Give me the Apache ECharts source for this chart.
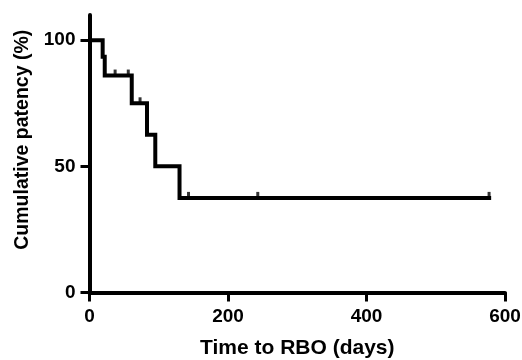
<!DOCTYPE html>
<html>
<head>
<meta charset="utf-8">
<script src="https://cdn.jsdelivr.net/npm/echarts@6/dist/echarts.min.js"></script>
<style>
  html, body { margin: 0; padding: 0; background: #fff; }
  #chart { width: 522px; height: 360px; }
</style>
</head>
<body>
<div id="chart"></div>
<script>
// Kaplan-Meier steps: day of event -> patency after it
const eventDays = [0, 19, 22, 61, 83, 95, 130, 580];
const patency = [100, 93.5, 86, 75, 62.5, 50, 37.5, 37.5];
// censored cases (tick marks)
const censorDays = [37, 56, 73, 143, 243, 577];
const censorValues = [86, 86, 75, 37.5, 37.5, 37.5];
const xTicks = [0, 200, 400, 600];
const yTicks = [0, 50, 100];

const font = "'Liberation Sans', Arial, sans-serif";
const black = '#000';

var myChart = echarts.init(document.getElementById('chart'));
myChart.setOption({
  animation: false,
  backgroundColor: '#fff',
  grid: { left: 89.5, right: 17, top: 15, bottom: 67.5, outerBoundsMode: 'none', containLabel: false },
  xAxis: {
    type: 'value',
    min: xTicks[0],
    max: xTicks[xTicks.length - 1],
    interval: xTicks[1] - xTicks[0],
    name: 'Time to RBO (days)',
    nameLocation: 'middle',
    nameGap: 45,
    nameTextStyle: { color: black, fontFamily: font, fontWeight: 'bold', fontSize: 21 },
    splitLine: { show: false },
    axisLine: { lineStyle: { color: black, width: 4 } },
    axisTick: { length: 9, lineStyle: { color: black, width: 3 } },
    axisLabel: { color: black, fontFamily: font, fontWeight: 'bold', fontSize: 19, margin: 15 }
  },
  yAxis: {
    type: 'value',
    min: 0,
    max: 110,
    interval: 50,
    name: 'Cumulative patency (%)',
    nameLocation: 'middle',
    nameGap: 56,
    nameTextStyle: { color: black, fontFamily: font, fontWeight: 'bold', fontSize: 19.5, padding: [0, 0, 0, 28] },
    splitLine: { show: false },
    axisLine: { lineStyle: { color: black, width: 4 } },
    axisTick: { length: 9, customValues: yTicks, lineStyle: { color: black, width: 3 } },
    axisLabel: { customValues: yTicks, color: black, fontFamily: font, fontWeight: 'bold', fontSize: 19, margin: 14 }
  },
  series: [
    {
      type: 'line',
      step: 'end',
      data: eventDays.map((d, i) => [d, patency[i]]),
      showSymbol: false,
      lineStyle: { color: black, width: 4, join: 'miter', cap: 'butt' },
      z: 3
    },
    {
      type: 'scatter',
      data: censorDays.map((d, i) => [d, censorValues[i]]),
      symbol: 'rect',
      symbolSize: [3, 6],
      symbolOffset: [0, -3],
      itemStyle: { color: black },
      z: 4
    }
  ]
});
</script>
</body>
</html>
